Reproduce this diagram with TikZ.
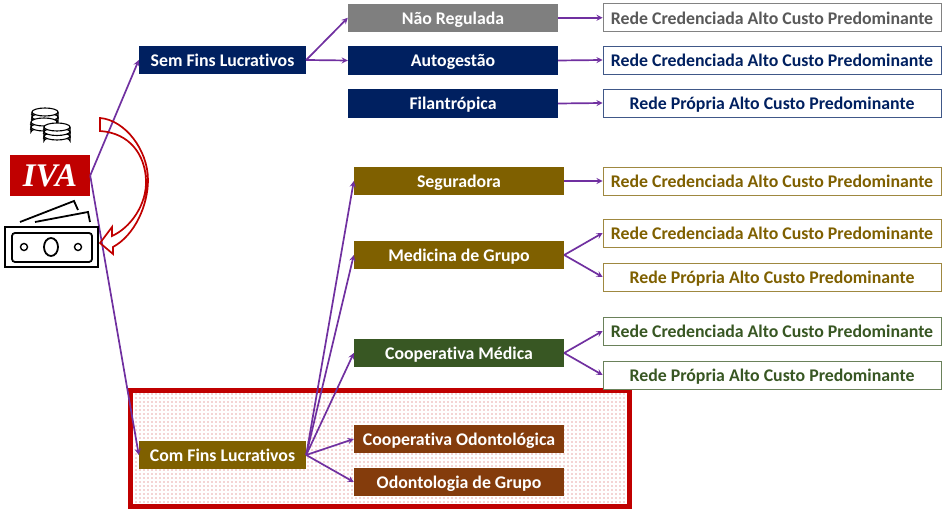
\documentclass[tikz,border=0pt]{standalone}
\usepackage{fontspec}
\setmainfont{Carlito}[Ligatures=NoCommon]
\newfontfamily\ivafont{Liberation Serif}
\usetikzlibrary{shapes.geometric,arrows,patterns}
\pgfdeclarepatternformonly{pontos}{\pgfqpoint{-1pt}{-1pt}}{\pgfqpoint{1pt}{1pt}}{\pgfqpoint{4pt}{4pt}}{
  \pgfpathcircle{\pgfqpoint{0pt}{0pt}}{0.6pt}\pgfusepath{fill}}
\definecolor{cinza}{HTML}{7F7F7F}
\definecolor{marinho}{HTML}{002060}
\definecolor{oliva}{HTML}{7F6000}
\definecolor{verde}{HTML}{385723}
\definecolor{ferrugem}{HTML}{843C0C}
\definecolor{vermelho}{HTML}{C00000}
\definecolor{roxo}{HTML}{7030A0}
\tikzset{
  opbox/.style={fill=#1, text=white, minimum height=28.5pt, inner sep=0pt, text height=15.5pt, text depth=3pt, font=\fontsize{17.8}{20}\selectfont\bfseries},
  grupobox/.style={opbox=#1, minimum width=167pt},
  tipobox/.style={opbox=#1, minimum width=210pt},
  redebox/.style={draw=#1!75!white, fill=white, text=#1, line width=0.8pt, minimum width=338pt, minimum height=28pt, inner sep=0pt, text height=15.5pt, text depth=3pt, font=\fontsize{17.8}{20}\selectfont\bfseries},
  seta/.style={-stealth, color=roxo, line width=1.7pt},
  icone/.style={line width=1.1pt, color=black},
  nota/.style={line width=1.8pt, color=black},
}
\begin{document}
\begin{tikzpicture}[x=1pt,y=-1pt]
  \useasboundingbox (0,0) rectangle (944,510);
  % destaque
  \draw[vermelho, line width=5pt, fill=white] (130,390) rectangle (629,506);
  \fill[pattern=pontos, pattern color=vermelho!70] (133,393) rectangle (626,503);
  % coluna esquerda
  \node[fill=vermelho, text=white, minimum width=80pt, minimum height=41pt, inner sep=0pt] (iva) at (50,175.5) {\ivafont\fontsize{33}{33}\selectfont\bfseries\itshape IVA};
  \node[grupobox=marinho] (semfins) at (222.5,60) {Sem Fins Lucrativos};
  \node[grupobox=oliva] (comfins) at (222.5,455) {Com Fins Lucrativos};
  % tipos
  \node[tipobox=cinza] (naoreg) at (453,17.8) {Não Regulada};
  \node[tipobox=marinho] (autog) at (453,60.5) {Autogestão};
  \node[tipobox=marinho] (filan) at (453,103.5) {Filantrópica};
  \node[tipobox=oliva] (segur) at (459,181) {Seguradora};
  \node[tipobox=oliva] (medic) at (459,255) {Medicina de Grupo};
  \node[tipobox=verde] (coopm) at (459,353) {Cooperativa Médica};
  \node[tipobox=ferrugem] (coopo) at (459,439) {Cooperativa Odontológica};
  \node[tipobox=ferrugem] (odont) at (459,482) {Odontologia de Grupo};
  % redes
  \node[redebox=cinza!70!black] (r1) at (772,17.8) {Rede Credenciada Alto Custo Predominante};
  \node[redebox=marinho] (r2) at (772,60) {Rede Credenciada Alto Custo Predominante};
  \node[redebox=marinho] (r3) at (772,103) {Rede Própria Alto Custo Predominante};
  \node[redebox=oliva] (r4) at (772,181) {Rede Credenciada Alto Custo Predominante};
  \node[redebox=oliva] (r5) at (772,233) {Rede Credenciada Alto Custo Predominante};
  \node[redebox=oliva] (r6) at (772,277) {Rede Própria Alto Custo Predominante};
  \node[redebox=verde] (r7) at (772,331) {Rede Credenciada Alto Custo Predominante};
  \node[redebox=verde] (r8) at (772,375) {Rede Própria Alto Custo Predominante};
  % conectores
  \draw[seta] (iva.east) -- (semfins.west);
  \draw[seta] (iva.east) -- (comfins.west);
  \draw[seta] (semfins.east) -- (naoreg.west);
  \draw[seta] (semfins.east) -- (autog.west);
  \foreach \destino in {segur,medic,coopm,coopo,odont}
    \draw[seta] (comfins.east) -- (\destino.west);
  \draw[seta] (naoreg.east) -- (r1.west);
  \draw[seta] (autog.east) -- (r2.west);
  \draw[seta] (filan.east) -- (r3.west);
  \draw[seta] (segur.east) -- (r4.west);
  \draw[seta] (medic.east) -- (r5.west);
  \draw[seta] (medic.east) -- (r6.west);
  \draw[seta] (coopm.east) -- (r7.west);
  \draw[seta] (coopm.east) -- (r8.west);
  % seta curva
  \draw[vermelho, line width=1.7pt, line join=miter] (100,118) .. controls (125,120) and (148,150) .. (148,180)
    .. controls (148,205) and (135,235) .. (113,247) -- (113,254) -- (100,243) -- (112,227) -- (112,236)
    .. controls (130,228) and (147,205) .. (146,180) .. controls (145,155) and (130,133) .. (100,131) -- cycle;
  % moedas
  \foreach \cx/\cy in {45/117,45/112,44/127,44/122,57/136,57/131.5,57/127} {
    \draw[icone, fill=white] (\cx-13,\cy) -- (\cx-13,\cy+5) arc[start angle=180, end angle=360, x radius=13, y radius=4] -- (\cx+13,\cy) ;
    \draw[black, line width=3pt, dash pattern=on 0.9pt off 1.3pt] (\cx-13,\cy+3) arc[start angle=180, end angle=360, x radius=13, y radius=4];
    \draw[icone, fill=white] (\cx,\cy) ellipse[x radius=13, y radius=4];
  }
  % nota
  \draw[nota] (20,222) -- (74,201) -- (78,210);
  \draw[nota] (35,222) -- (88,212) -- (90,222);
  \draw[nota] (5,227) rectangle (98,267);
  \draw[nota, rounded corners=3pt] (12,233) rectangle (92,262);
  \draw[nota] (51,247) ellipse[x radius=7, y radius=9];
  \draw[nota, line width=1.4pt] (24,247) circle[radius=3.5];
  \draw[nota, line width=1.4pt] (78,247) circle[radius=3.5];
\end{tikzpicture}
\end{document}
